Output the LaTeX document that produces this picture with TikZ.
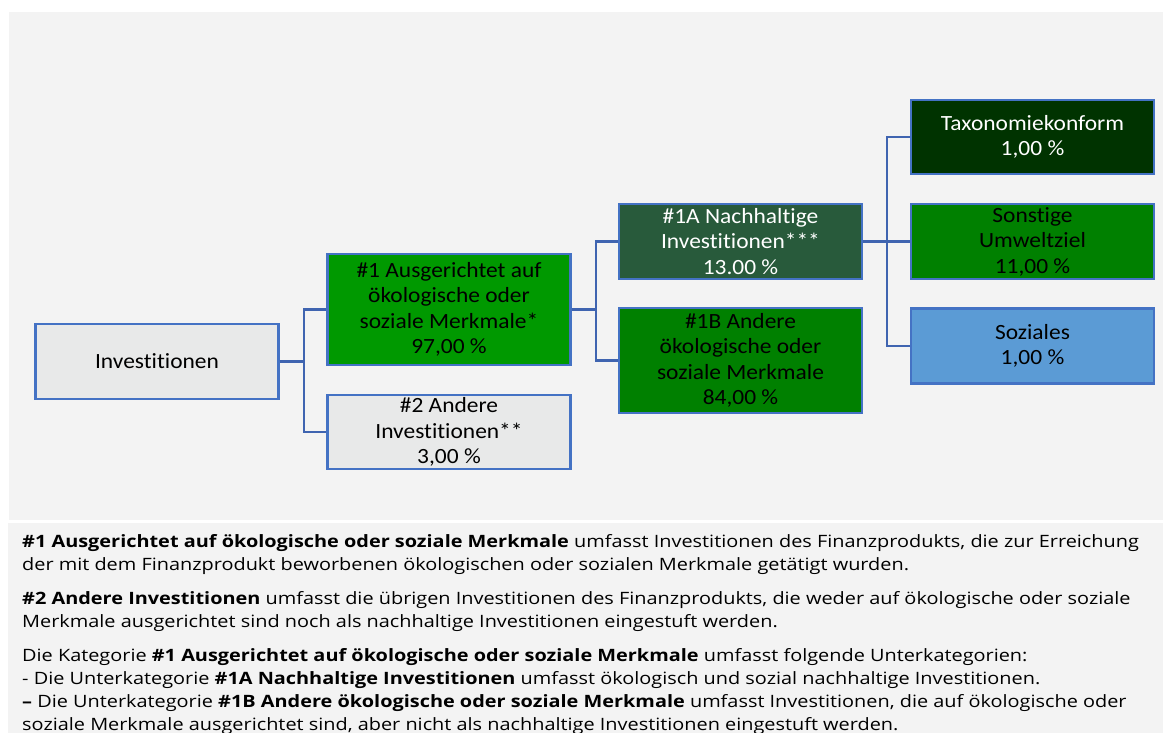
\documentclass[tikz,border=0pt]{standalone}
\usepackage{fontspec}
\setmainfont{Carlito}[FakeStretch=1.08,Ligatures=NoCommon]
\newfontfamily\notefont{Open Sans}[FakeStretch=1.17]
\usepackage{xcolor}
\usetikzlibrary{positioning,calc}
\definecolor{panelgray}{HTML}{F3F3F3}
\definecolor{boxgray}{HTML}{E8E9E9}
\definecolor{edgeblue}{HTML}{4472C4}
\definecolor{linkblue}{HTML}{3F64B0}
\definecolor{midgreen}{HTML}{009900}
\definecolor{deepgreen}{HTML}{008000}
\definecolor{mossgreen}{HTML}{285A3B}
\definecolor{darkgreen}{HTML}{003300}
\definecolor{socialblue}{HTML}{5B9BD5}

\tikzset{
  catbox/.style={draw=edgeblue,line width=2.4pt,align=center,inner sep=0pt,
    minimum width=243pt,font=\fontsize{21.7}{25.5}\selectfont},
  link/.style={draw=linkblue,line width=2.2pt}
}

\begin{document}
\begin{tikzpicture}[x=1pt,y=-1pt]
\useasboundingbox (0,0) rectangle (1163,733);
\fill[panelgray](9,12) rectangle (1163,520);
\fill[panelgray](8,523) rectangle (1163,733);
\node[catbox,fill=boxgray,minimum height=75pt](inv) at (157,361.5){Investitionen};
\node[catbox,fill=midgreen,minimum height=111pt](g1) at (449,309.5){\#1 Ausgerichtet auf\\ökologische oder\\soziale Merkmale*\\97,00 \%};
\node[catbox,fill=boxgray,minimum height=74pt](g2) at (449,432){\#2 Andere\\Investitionen**\\3,00 \%};
\node[catbox,fill=mossgreen,text=white,minimum height=75pt](g1a) at (740.5,241.5){\#1A Nachhaltige\\Investitionen***\\13.00 \%};
\node[catbox,fill=deepgreen,minimum height=105pt](g1b) at (740.5,360.5){\#1B Andere\\ökologische oder\\soziale Merkmale\\84,00 \%};
\node[catbox,fill=darkgreen,text=white,minimum height=74pt](tax) at (1032.5,137){Taxonomiekonform\\1,00 \%};
\node[catbox,fill=deepgreen,minimum height=75pt](other) at (1032.5,241.5){Sonstige\\Umweltziel\\11,00 \%};
\node[catbox,fill=socialblue,minimum height=75pt](social) at (1032.5,346){Soziales\\1,00 \%};
\draw[link](inv.east)--++(24,0)|-(g1.west);
\draw[link](inv.east)--++(24,0)|-(g2.west);
\draw[link](g1.east)--++(24,0)|-(g1a.west);
\draw[link](g1.east)--++(24,0)|-(g1b.west);
\draw[link](g1a.east)--++(24,0)|-(tax.west);
\draw[link](g1a.east)--(other.west);
\draw[link](g1a.east)--++(24,0)|-(social.west);
\node[anchor=north west,align=left,inner sep=0pt,font=\notefont\fontsize{17}{23}\selectfont](notes) at (22,534.5){%
\textbf{\#1 Ausgerichtet auf ökologische oder soziale Merkmale} umfasst Investitionen des Finanzprodukts, die zur Erreichung\\
der mit dem Finanzprodukt beworbenen ökologischen oder sozialen Merkmale getätigt wurden.\\[11pt]
\textbf{\#2 Andere Investitionen} umfasst die übrigen Investitionen des Finanzprodukts, die weder auf ökologische oder soziale\\
Merkmale ausgerichtet sind noch als nachhaltige Investitionen eingestuft werden.\\[11pt]
Die Kategorie \textbf{\#1 Ausgerichtet auf ökologische oder soziale Merkmale} umfasst folgende Unterkategorien:\\
- Die Unterkategorie \textbf{\#1A Nachhaltige Investitionen} umfasst ökologisch und sozial nachhaltige Investitionen.\\
\textbf{–} Die Unterkategorie \textbf{\#1B Andere ökologische oder soziale Merkmale} umfasst Investitionen, die auf ökologische oder\\
soziale Merkmale ausgerichtet sind, aber nicht als nachhaltige Investitionen eingestuft werden.};
\end{tikzpicture}
\end{document}
